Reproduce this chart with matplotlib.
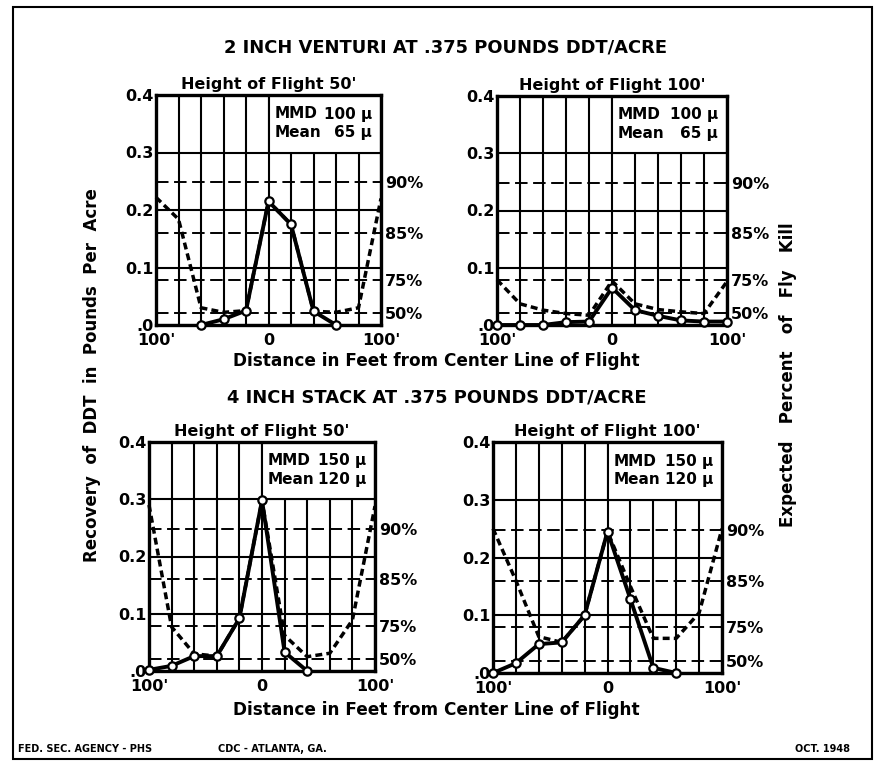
import numpy as np
import matplotlib.pyplot as plt
from matplotlib.patches import Rectangle

plt.rcParams['font.family'] = 'DejaVu Sans'
plt.rcParams['font.weight'] = 'bold'
plt.rcParams['lines.scale_dashes'] = False

W, H = 875, 763

# distance from center line of flight (feet), one station every 20'
dist = np.arange(-100, 101, 20)

# expected fly kill levels on the right hand scale
kill_levels = [0.021, 0.079, 0.16, 0.248]
kill_labels = ['50%', '75%', '85%', '90%']

# 2 inch venturi, height 50'
v50_x = [-60, -40, -20, 0, 20, 40, 60]
v50_ddt = [0.0, 0.01, 0.025, 0.215, 0.175, 0.024, 0.0]
v50_kill = [0.222, 0.184, 0.03, 0.022, 0.025, 0.215, 0.175, 0.024, 0.022, 0.03, 0.22]

# 2 inch venturi, height 100'
v100_x = list(dist)
v100_ddt = [0.0, 0.0, 0.0, 0.005, 0.006, 0.065, 0.026, 0.016, 0.008, 0.006, 0.006]
v100_kill = [0.079, 0.037, 0.026, 0.02, 0.017, 0.077, 0.037, 0.027, 0.023, 0.02, 0.076]

# 4 inch stack, height 50'
s50_x = [-100, -80, -60, -40, -20, 0, 20, 40]
s50_ddt = [0.002, 0.009, 0.026, 0.026, 0.092, 0.298, 0.033, 0.0]
s50_kill = [0.29, 0.077, 0.03, 0.026, 0.092, 0.298, 0.062, 0.025, 0.031, 0.089, 0.288]

# 4 inch stack, height 100'
s100_x = [-100, -80, -60, -40, -20, 0, 20, 40, 60]
s100_ddt = [0.0, 0.017, 0.05, 0.053, 0.1, 0.245, 0.128, 0.009, 0.0]
s100_kill = [0.25, 0.16, 0.063, 0.053, 0.1, 0.245, 0.15, 0.06, 0.06, 0.104, 0.25]

panels = [
    # left, right, top, bottom (px), title, MMD, mean, data
    (156, 381, 95, 325, "Height of Flight 50'", "100", "65", v50_x, v50_ddt, v50_kill),
    (497, 727, 96, 325, "Height of Flight 100'", "100", "65", v100_x, v100_ddt, v100_kill),
    (149, 375, 442, 671, "Height of Flight 50'", "150", "120", s50_x, s50_ddt, s50_kill),
    (493, 722, 442, 673, "Height of Flight 100'", "150", "120", s100_x, s100_ddt, s100_kill),
]

fig = plt.figure(figsize=(W / 100, H / 100), dpi=100)

for (l, r, t, b, title, mmd, mean, xs, ddt, kill) in panels:
    ax = fig.add_axes([l / W, 1 - b / H, (r - l) / W, (b - t) / H])
    ax.set_xlim(-100, 100)
    ax.set_ylim(0, 0.4)
    ax.set_xticks(dist)
    ax.set_xticklabels(["100'", '', '', '', '', '0', '', '', '', '', "100'"])
    ax.set_yticks([0, 0.1, 0.2, 0.3, 0.4])
    ax.set_yticklabels(['.0', '0.1', '0.2', '0.3', '0.4'])
    ax.tick_params(length=0, labelsize=11.5, pad=2)
    ax.tick_params(axis='x', pad=6)
    ax.set_axisbelow(True)
    ax.grid(True, color='black', lw=1.5)
    for s in ax.spines.values():
        s.set_linewidth(2.4)
    for k in kill_levels:
        ax.axhline(k, color='black', lw=1.4, dashes=(9, 4), zorder=1)
    ax.add_patch(Rectangle((0, 0.3), 100, 0.1, facecolor='white',
                           edgecolor='black', lw=1.5, zorder=2))
    ax.text(0.525, 0.95, "MMD\nMean", transform=ax.transAxes, ha='left',
            va='top', fontsize=11, linespacing=1.3, zorder=6)
    ax.text(0.96, 0.95, mmd + " \u03bc\n" + mean + " \u03bc",
            transform=ax.transAxes, ha='right', va='top', fontsize=11,
            linespacing=1.3, zorder=6)
    ax.plot(dist, kill, color='black', lw=2.5, dashes=(5, 3), zorder=3,
            clip_on=False)
    ax.plot(xs, ddt, color='black', lw=2.8, zorder=4, marker='o', ms=6,
            mfc='white', mec='black', mew=1.6, clip_on=False)
    ax.set_title(title, fontsize=11.5, fontweight='bold', pad=4)

    tw = ax.twinx()
    tw.set_ylim(0, 0.4)
    tw.set_yticks(kill_levels)
    tw.set_yticklabels(kill_labels)
    tw.tick_params(length=0, labelsize=11.5, pad=3)
    for s in tw.spines.values():
        s.set_visible(False)

fig.text(445 / W, 1 - 47 / H, "2 INCH VENTURI AT .375 POUNDS DDT/ACRE",
         ha='center', va='center', fontsize=12.9)
fig.text(437 / W, 1 - 398 / H, "4 INCH STACK AT .375 POUNDS DDT/ACRE",
         ha='center', va='center', fontsize=12.9)
fig.text(436 / W, 1 - 361 / H, "Distance in Feet from Center Line of Flight",
         ha='center', va='center', fontsize=12.2)
fig.text(436 / W, 1 - 710 / H, "Distance in Feet from Center Line of Flight",
         ha='center', va='center', fontsize=12.2)
fig.text(92 / W, 1 - 375 / H, "Recovery  of  DDT  in  Pounds  Per  Acre",
         ha='center', va='center', rotation=90, fontsize=12)
fig.text(788 / W, 1 - 375 / H, "Expected   Percent   of   Fly   Kill",
         ha='center', va='center', rotation=90, fontsize=12)

fig.text(18 / W, 1 - 749 / H, "FED. SEC. AGENCY - PHS", ha='left',
         va='center', fontsize=7)
fig.text(218 / W, 1 - 749 / H, "CDC - ATLANTA, GA.", ha='left',
         va='center', fontsize=7)
fig.text(850 / W, 1 - 749 / H, "OCT. 1948", ha='right',
         va='center', fontsize=7)

fig.patches.append(Rectangle((13 / W, 4 / H), 859 / W, 752 / H,
                             transform=fig.transFigure, fill=False,
                             edgecolor='black', lw=1.5))

fig.savefig('out.png', dpi=100)
